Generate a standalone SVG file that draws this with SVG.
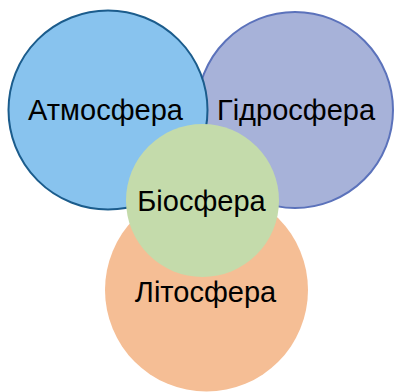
<svg xmlns="http://www.w3.org/2000/svg" width="394" height="392" viewBox="0 0 394 392">
<style>
text{font-family:"Liberation Sans",Arial,sans-serif;font-size:29px;fill:#000;text-anchor:middle}
</style>
<rect width="394" height="392" fill="#fff"/>
<g id="lithosphere"><circle cx="206.5" cy="290" r="101.5" fill="#F5BE95"/></g>
<g id="hydrosphere"><circle cx="295" cy="110" r="98" fill="#A7B2D9" stroke="#5B72BB" stroke-width="2"/></g>
<g id="atmosphere"><circle cx="108" cy="110" r="99.5" fill="#88C3EE" stroke="#1B5C8C" stroke-width="2"/></g>
<g id="biosphere"><circle cx="202.5" cy="200.5" r="76.5" fill="#C4DBAB"/></g>
<g id="labels">
<text x="105.5" y="120">Атмосфера</text>
<text x="296" y="120">Гідросфера</text>
<text x="201.5" y="211">Біосфера</text>
<text x="205.5" y="302">Літосфера</text>
</g>
<g id="connectors"/>
</svg>
